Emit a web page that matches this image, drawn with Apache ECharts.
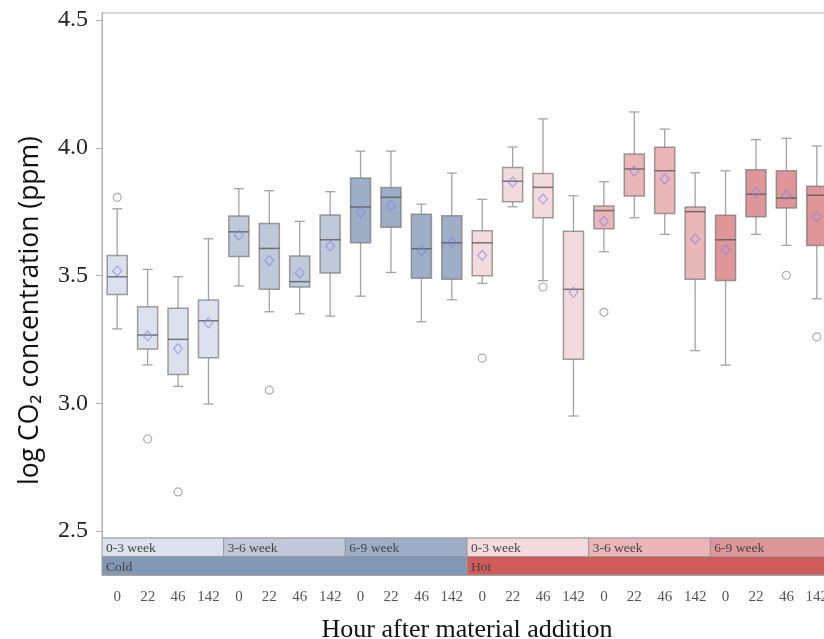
<!DOCTYPE html>
<html>
<head>
<meta charset="utf-8">
<title>log CO2 concentration</title>
<script src="https://cdn.jsdelivr.net/npm/echarts@6/dist/echarts.min.js"></script>
<style>
  html, body { margin: 0; padding: 0; background: #fff; }
  #chart { width: 824px; height: 639px; }
</style>
</head>
<body>
<div id="chart"></div>
<script>
// hours after material addition, repeated for each storage period / treatment
const hours = ['0', '22', '46', '142']
const categories = [].concat(hours, hours, hours, hours, hours, hours)

// box statistics (log ppm)
const whiskerLow = [3.291, 3.150, 3.066, 2.997, 3.459, 3.358, 3.350, 3.341, 3.419, 3.512, 3.319, 3.405,
  3.469, 3.769, 3.480, 2.950, 3.593, 3.726, 3.661, 3.206, 3.149, 3.661, 3.618, 3.409]
const q1 = [3.426, 3.212, 3.113, 3.178, 3.574, 3.446, 3.455, 3.510, 3.628, 3.689, 3.489, 3.485,
  3.499, 3.789, 3.726, 3.172, 3.683, 3.811, 3.743, 3.485, 3.480, 3.730, 3.764, 3.617]
const median = [3.495, 3.267, 3.250, 3.323, 3.671, 3.606, 3.476, 3.640, 3.768, 3.806, 3.605, 3.628,
  3.628, 3.869, 3.845, 3.446, 3.754, 3.917, 3.910, 3.750, 3.640, 3.818, 3.803, 3.814]
const q3 = [3.578, 3.378, 3.372, 3.404, 3.733, 3.704, 3.576, 3.737, 3.882, 3.844, 3.740, 3.734,
  3.675, 3.923, 3.899, 3.673, 3.772, 3.976, 4.002, 3.768, 3.736, 3.914, 3.910, 3.849]
const whiskerHigh = [3.761, 3.524, 3.495, 3.644, 3.840, 3.832, 3.712, 3.828, 3.987, 3.987, 3.779, 3.901,
  3.798, 4.003, 4.113, 3.812, 3.867, 4.140, 4.073, 3.902, 3.910, 4.032, 4.037, 4.007]
const means = [3.518, 3.264, 3.214, 3.315, 3.658, 3.559, 3.510, 3.615, 3.747, 3.773, 3.597, 3.628,
  3.579, 3.866, 3.799, 3.434, 3.712, 3.908, 3.878, 3.643, 3.601, 3.824, 3.814, 3.730]
// [box index, value]
const outliers = [[0, 3.806], [1, 2.860], [2, 2.653], [5, 3.051], [12, 3.177], [14, 3.455],
  [16, 3.356], [22, 3.501], [23, 3.260]]

// band labels under the plot
const weekLabels = ['0-3 week', '3-6 week', '6-9 week', '0-3 week', '3-6 week', '6-9 week']
const treatmentLabels = ['Cold', 'Hot']
const yTicks = [2.5, 3.0, 3.5, 4.0, 4.5]

const weekColors = ['#dce2ed', '#bfc9da', '#9eaec7', '#f3dadd', '#eab6b8', '#df9698']
const treatmentColors = ['#8297b4', '#d05b5b']

const serif = '"Liberation Serif", "DejaVu Serif", serif'

const boxData = categories.map((c, i) => [i, whiskerLow[i], q1[i], median[i], q3[i], whiskerHigh[i]])
const meanData = means.map((v, i) => [i, v])

// bands: [first category, last category, row]
const bandData = []
const bandLabels = []
const bandColors = []
weekLabels.forEach((name, k) => {
  bandData.push([k * 4, k * 4 + 3, 1])
  bandLabels.push(name)
  bandColors.push(weekColors[k])
})
treatmentLabels.forEach((name, k) => {
  bandData.push([k * 12, k * 12 + 11, 0])
  bandLabels.push(name)
  bandColors.push(treatmentColors[k])
})

function renderBox(params, api) {
  const i = api.value(0)
  const low = api.coord([i, api.value(1)])
  const lo = api.coord([i, api.value(2)])
  const mid = api.coord([i, api.value(3)])
  const hi = api.coord([i, api.value(4)])
  const high = api.coord([i, api.value(5)])
  const w = api.size([1, 0])[0] * 0.66
  const cap = w / 2
  const x = low[0]
  const whisker = { stroke: '#a3a3a3', lineWidth: 1.3 }
  return {
    type: 'group',
    children: [
      { type: 'line', shape: { x1: x, y1: high[1], x2: x, y2: hi[1] }, style: whisker },
      { type: 'line', shape: { x1: x, y1: lo[1], x2: x, y2: low[1] }, style: whisker },
      { type: 'line', shape: { x1: x - cap / 2, y1: high[1], x2: x + cap / 2, y2: high[1] }, style: whisker },
      { type: 'line', shape: { x1: x - cap / 2, y1: low[1], x2: x + cap / 2, y2: low[1] }, style: whisker },
      {
        type: 'rect',
        shape: { x: x - w / 2, y: hi[1], width: w, height: lo[1] - hi[1] },
        style: { fill: weekColors[Math.floor(i / 4)], stroke: 'rgba(110,110,110,0.65)', lineWidth: 1.5 }
      },
      {
        type: 'line',
        shape: { x1: x - w / 2, y1: mid[1], x2: x + w / 2, y2: mid[1] },
        style: { stroke: 'rgba(80,80,80,0.75)', lineWidth: 1.5 }
      }
    ]
  }
}

function renderBand(params, api) {
  const w = api.size([1, 0])[0]
  const row = api.value(2)
  const p0 = api.coord([api.value(0), row + 1])
  const p1 = api.coord([api.value(1), row])
  const left = p0[0] - w / 2
  return {
    type: 'group',
    children: [
      {
        type: 'rect',
        shape: { x: left, y: p0[1], width: p1[0] - p0[0] + w, height: p1[1] - p0[1] },
        style: { fill: bandColors[params.dataIndex], stroke: '#9a9a9a', lineWidth: 1 }
      },
      {
        type: 'text',
        style: {
          text: bandLabels[params.dataIndex],
          x: left + 4,
          y: (p0[1] + p1[1]) / 2 + 1.5,
          verticalAlign: 'middle',
          font: '13.5px ' + serif,
          fill: '#444'
        }
      }
    ]
  }
}

const chart = echarts.init(document.getElementById('chart'))

chart.setOption({
  animation: false,
  grid: [
    {
      left: 102, top: 13, width: 730, height: 525, outerBoundsMode: 'none',
      show: true, borderColor: '#b0b0b0', borderWidth: 1
    },
    { left: 102, top: 538, width: 730, height: 37, outerBoundsMode: 'none' }
  ],
  xAxis: [
    {
      gridIndex: 0,
      type: 'category',
      data: categories,
      axisLine: { show: false },
      axisTick: { show: false },
      axisLabel: { show: false }
    },
    {
      gridIndex: 1,
      type: 'category',
      data: categories,
      axisLine: { lineStyle: { color: '#b0b0b0' } },
      axisTick: { alignWithLabel: true, length: 5, lineStyle: { color: '#b0b0b0' } },
      axisLabel: { margin: 15, fontSize: 15, fontFamily: serif, color: '#555' },
      name: 'Hour after material addition',
      nameLocation: 'middle',
      nameGap: 42,
      nameTextStyle: { fontSize: 26, fontFamily: serif, color: '#111' }
    }
  ],
  yAxis: [
    {
      gridIndex: 0,
      type: 'value',
      min: 2.4726,
      max: 4.5274,
      splitLine: { show: false },
      axisLine: { show: true, lineStyle: { color: '#b0b0b0' } },
      axisTick: { show: true, length: 6, customValues: yTicks, lineStyle: { color: '#b0b0b0' } },
      axisLabel: {
        customValues: yTicks,
        formatter: v => v.toFixed(1),
        margin: 14,
        fontSize: 24,
        fontFamily: serif,
        color: '#222'
      },
      name: 'log CO₂ concentration (ppm)',
      nameLocation: 'middle',
      nameGap: 58,
      nameTextStyle: { fontSize: 26.5, fontFamily: '"Open Sans", sans-serif', color: '#111', padding: [0, 70, 0, 0] }
    },
    { gridIndex: 1, type: 'value', min: 0, max: 2, show: false }
  ],
  series: [
    {
      name: 'box',
      type: 'custom',
      xAxisIndex: 0,
      yAxisIndex: 0,
      renderItem: renderBox,
      encode: { x: 0, y: [1, 2, 3, 4, 5] },
      data: boxData,
      z: 2
    },
    {
      name: 'mean',
      type: 'scatter',
      xAxisIndex: 0,
      yAxisIndex: 0,
      symbol: 'diamond',
      symbolSize: [9, 10],
      itemStyle: { color: 'rgba(0,0,0,0)', borderColor: '#8585ec', borderWidth: 1 },
      data: meanData,
      z: 3
    },
    {
      name: 'outlier',
      type: 'scatter',
      xAxisIndex: 0,
      yAxisIndex: 0,
      symbol: 'circle',
      symbolSize: 8,
      itemStyle: { color: '#fff', borderColor: '#9a9a9a', borderWidth: 1.2 },
      data: outliers,
      z: 3
    },
    {
      name: 'band',
      type: 'custom',
      xAxisIndex: 1,
      yAxisIndex: 1,
      renderItem: renderBand,
      encode: { x: [0, 1], y: 2 },
      data: bandData,
      z: 2
    }
  ]
})
</script>
</body>
</html>
